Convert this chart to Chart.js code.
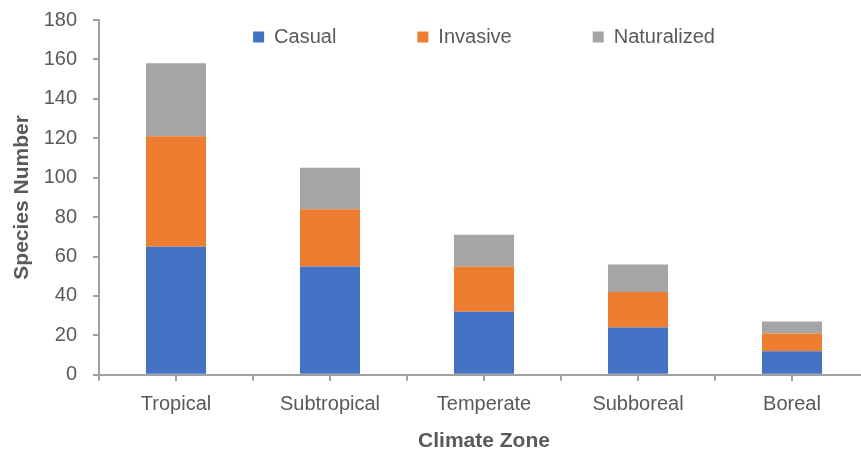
<!DOCTYPE html>
<html>
<head>
<meta charset="utf-8">
<script src="https://cdn.jsdelivr.net/npm/chart.js@4/dist/chart.umd.min.js"></script>
<style>
    html, body { margin: 0; padding: 0; background: #fff; overflow: hidden; }
    /* the original figure is cut off a few pixels past the right edge */
    #chart-wrap { width: 869px; height: 456px; }
</style>
</head>
<body>
<div id="chart-wrap"><canvas id="zone-chart" width="869" height="456"></canvas></div>
<script>
/* species by climate zone */

const zones = ["Tropical", "Subtropical", "Temperate", "Subboreal", "Boreal"];
const casual = [65, 55, 32, 24, 12];
const invasive = [56, 29, 23, 18, 9];
const naturalized = [37, 21, 16, 14, 6];
const yTicks = [0, 20, 40, 60, 80, 100, 120, 140, 160, 180];

const FONT = "'Liberation Sans', Arial, sans-serif";
const TEXT = "#595959";
const AXIS = "#a0a0a0";

document.addEventListener("DOMContentLoaded", () => {
    initZoneChart();
});

function initZoneChart() {
    const ctx = document.getElementById("zone-chart").getContext("2d");

    const barData = {
        labels: zones,
        datasets: [
            { label: "Casual", data: casual, backgroundColor: "#4472c4" },
            { label: "Invasive", data: invasive, backgroundColor: "#ed7d31" },
            { label: "Naturalized", data: naturalized, backgroundColor: "#a5a5a5" }
        ]
    };

    const barOptions = {
        responsive: false,
        animation: false,
        barPercentage: 0.39,
        categoryPercentage: 1,
        layout: { padding: { left: 10, right: 0, top: 20, bottom: 2 } },
        plugins: {
            tooltip: { enabled: false },
            legend: {
                position: "top",
                fullSize: false,
                labels: {
                    color: TEXT,
                    font: { family: FONT, size: 20 },
                    boxWidth: 11,
                    boxHeight: 11,
                    padding: 81
                }
            }
        },
        scales: {
            x: {
                stacked: true,
                border: { color: AXIS, width: 2 },
                grid: { drawOnChartArea: false, offset: true, tickLength: 6, color: AXIS, lineWidth: 2 },
                ticks: { color: TEXT, font: { family: FONT, size: 20 }, padding: 12 },
                title: {
                    display: true,
                    text: "Climate Zone",
                    color: TEXT,
                    font: { family: FONT, size: 21, weight: "bold" },
                    padding: { top: 0, bottom: 0 }
                }
            },
            // second x axis only for the tick marks at bar centres
            xc: {
                type: "category",
                labels: zones,
                position: { y: 0 },
                offset: true,
                border: { display: false },
                grid: { drawOnChartArea: false, offset: false, tickLength: 6, color: AXIS, lineWidth: 2 },
                ticks: { display: false }
            },
            y: {
                stacked: true,
                min: 0,
                max: 180,
                afterBuildTicks: (scale) => {
                    scale.ticks = yTicks.map(v => ({ value: v }));
                },
                // fixed axis width; the top label may stick out above the plot
                afterFit: (scale) => {
                    scale.width = 89;
                    scale.paddingTop = 0;
                    scale.paddingBottom = 0;
                },
                border: { color: AXIS, width: 2 },
                grid: { drawOnChartArea: false, tickLength: 6, color: AXIS, lineWidth: 2 },
                ticks: { color: TEXT, font: { family: FONT, size: 20 }, padding: 16 },
                title: {
                    display: true,
                    text: "Species Number",
                    color: TEXT,
                    font: { family: FONT, size: 21, weight: "bold" },
                    padding: { top: 0, bottom: 0 }
                }
            }
        }
    };

    // legend sits inside the plot, so it takes no room in the layout
    const legendInPlot = {
        id: "legendInPlot",
        afterInit(chart) {
            const legend = chart.legend;
            const fit = legend.fit;
            legend.fit = function () {
                fit.call(this);
                this.height = 0;
            };
        },
        afterLayout(chart) {
            const legend = chart.legend;
            const labels = legend.options.labels;
            legend.top = 37 - labels.padding - labels.font.size / 2;
            legend.bottom = 37 + labels.font.size;
        }
    };

    new Chart(ctx, {
        type: "bar",
        data: barData,
        options: barOptions,
        plugins: [legendInPlot]
    });
}
</script>
</body>
</html>
